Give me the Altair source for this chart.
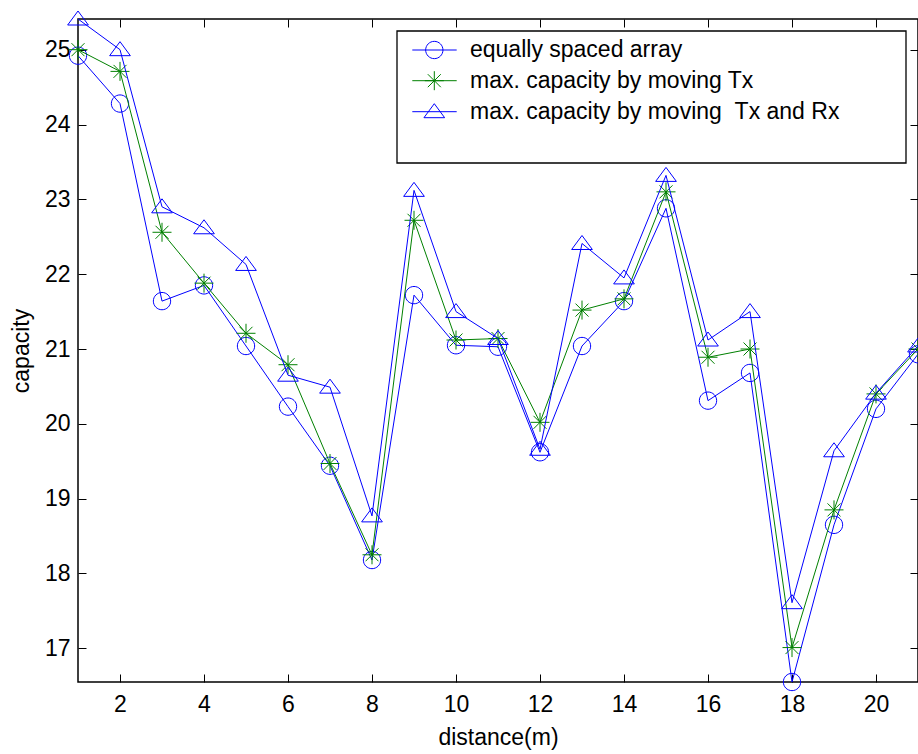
import altair as alt
import pandas as pd

# ---- data ----
distance = list(range(1, 22))
equally_spaced = [24.92, 24.28, 21.64, 21.85, 21.04, 20.23, 19.44, 18.18, 21.72, 21.05, 21.03,
                  19.62, 21.04, 21.64, 22.88, 20.31, 20.68, 16.55, 18.65, 20.20, 20.93]
moving_tx = [25.00, 24.71, 22.56, 21.88, 21.21, 20.79, 19.47, 18.25, 22.72, 21.12, 21.14,
             20.02, 21.52, 21.67, 23.10, 20.89, 21.00, 17.01, 18.85, 20.40, 21.00]
moving_tx_rx = [25.41, 25.00, 22.90, 22.62, 22.13, 20.65, 20.49, 18.77, 23.12, 21.50, 21.14,
                19.66, 22.41, 21.95, 23.32, 21.12, 21.50, 17.61, 19.64, 20.41, 21.04]

series_names = ["equally spaced array",
                "max. capacity by moving Tx",
                "max. capacity by moving \u00a0Tx and Rx"]
series_values = [equally_spaced, moving_tx, moving_tx_rx]
series_colors = ["#0000ff", "#008000", "#0000ff"]

x_ticks = list(range(2, 21, 2))
y_ticks = list(range(17, 26))
x_domain = [1, 21]
y_domain = [16.55, 25.41]

FONT = "Liberation Sans"
FS = 23

CIRCLE = "M0.865,0 A0.865,0.865 0 1,1 -0.865,0 A0.865,0.865 0 1,1 0.865,0 Z"
STAR = ("M-0.95,0 L0.95,0 M0,-0.95 L0,0.95 "
        "M-0.65,-0.65 L0.65,0.65 M-0.65,0.65 L0.65,-0.65")
TRIANGLE = "M0,-0.8 L1.035,0.6 L-1.035,0.6 Z"
series_shapes = [CIRCLE, STAR, TRIANGLE]
MSIZE = 400

W, H = 840, 663

xscale = alt.Scale(domain=x_domain, nice=False, zero=False)
yscale = alt.Scale(domain=y_domain, nice=False, zero=False)

axis_common = dict(domain=False, grid=False, tickSize=8, tickColor="black", tickWidth=1,
                   labelFont=FONT, labelFontSize=FS, labelColor="black",
                   titleFont=FONT, titleFontSize=FS, titleColor="black",
                   titleFontWeight="normal", labelFlush=False, labelOverlap=False)

bottom_axis = alt.Axis(orient="bottom", values=x_ticks, offset=-8, labelBaseline="alphabetic",
                       labelPadding=29.7, title="distance(m)", titleX=W / 2, titleY=70,
                       titleBaseline="alphabetic", titleAlign="center", **axis_common)
left_axis = alt.Axis(orient="left", values=y_ticks, offset=-8, labelPadding=8,
                     labelBaseline="middle", title="capacity", titleAngle=270,
                     titleX=-57.7, titleY=H / 2, titleBaseline="alphabetic",
                     titleAlign="center", **axis_common)
top_axis = alt.Axis(orient="top", values=x_ticks, offset=-8, labels=False, title=None,
                    **axis_common)
right_axis = alt.Axis(orient="right", values=y_ticks, offset=-8, labels=False, title=None,
                      **axis_common)

layers = []
for i, (name, vals, col, shp) in enumerate(zip(series_names, series_values,
                                               series_colors, series_shapes)):
    df = pd.DataFrame({"x": distance, "y": vals, "series": name})
    xa = bottom_axis if i == 0 else None
    ya = left_axis if i == 0 else None
    line = alt.Chart(df).mark_line(color=col, strokeWidth=1).encode(
        x=alt.X("x:Q", scale=xscale, axis=xa),
        y=alt.Y("y:Q", scale=yscale, axis=ya),
    )
    pts = alt.Chart(df).mark_point(shape=shp, size=MSIZE, filled=False, color=col,
                                   strokeWidth=1, opacity=1).encode(
        x=alt.X("x:Q", scale=xscale, axis=None),
        y=alt.Y("y:Q", scale=yscale, axis=None),
    )
    layers += [line, pts]

# frame axes (top / right, ticks only)
frame_df = pd.DataFrame({"x": distance, "y": equally_spaced})
frame = alt.Chart(frame_df).mark_point(opacity=0).encode(
    x=alt.X("x:Q", scale=xscale, axis=top_axis),
    y=alt.Y("y:Q", scale=yscale, axis=right_axis),
)
layers.append(frame)

# legend (box + entries)
one = pd.DataFrame({"a": [0]})
box = alt.Chart(one).mark_rect(fill="white", stroke="black", strokeWidth=1.3).encode(
    x=alt.value(319), x2=alt.value(828), y=alt.value(12), y2=alt.value(144))
layers.append(box)
row_y = [31, 61.7, 92.7]
for name, col, shp, ry in zip(series_names, series_colors, series_shapes, row_y):
    layers.append(alt.Chart(one).mark_rule(color=col, strokeWidth=1).encode(
        x=alt.value(334.3), x2=alt.value(378.7), y=alt.value(ry)))
    layers.append(alt.Chart(one).mark_point(shape=shp, size=MSIZE, filled=False, color=col,
                                            strokeWidth=1, opacity=1).encode(
        x=alt.value(356.3), y=alt.value(ry)))
    layers.append(alt.Chart(one).mark_text(text=name, font=FONT, fontSize=FS, color="black",
                                           align="left", baseline="middle").encode(
        x=alt.value(392), y=alt.value(ry)))

chart = alt.layer(*layers).resolve_axis(x="independent", y="independent").properties(
    width=W, height=H,
    padding={"left": 78, "top": 19, "right": 0, "bottom": 72},
    autosize=alt.AutoSizeParams(type="none"),
    background="white",
).configure_view(stroke="black", strokeWidth=1.5)

chart.save("out.html", embed_options={"renderer": "svg", "actions": False})
